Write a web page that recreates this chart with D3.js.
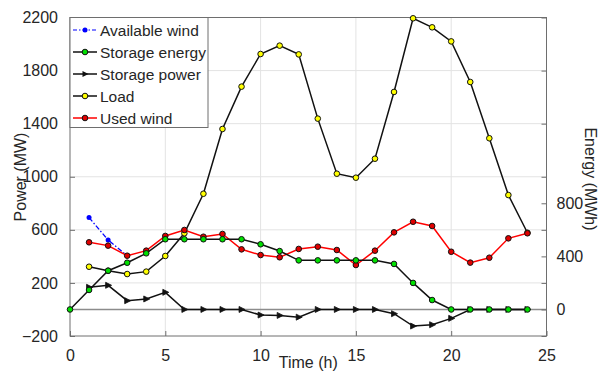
<!DOCTYPE html>
<html>
<head>
<meta charset="utf-8">
<script src="https://cdn.jsdelivr.net/npm/d3@7"></script>
<style>
  body { margin: 0; background: #fff; }
  svg text { font-family: "Liberation Sans", Arial, sans-serif; fill: #262626; }
</style>
</head>
<body>
<svg id="chart" width="598" height="372"></svg>
<script>
// hours
const hours = d3.range(0, 25);
const windHours = [1, 2, 3];
const availWind = [692, 523, 405];
const usedWind = [506, 481, 405, 443, 554, 599, 548, 569, 453, 410, 393, 456, 473, 448, 335, 443, 581, 661, 629, 435, 353, 390, 536, 574];
const load = [322, 292, 267, 285, 403, 574, 872, 1360, 1679, 1925, 1988, 1922, 1438, 1023, 993, 1136, 1639, 2194, 2126, 2020, 1714, 1290, 862, 578];
const storPower = [167, 182, 66, 79, 129, 0, 0, 0, 0, -42, -45, -58, 0, 0, 0, 0, -32, -125, -115, -67, 0, 0, 0, 0];
const storEnergy = [0, 147, 292, 352, 423, 529, 529, 529, 529, 529, 491, 440, 370, 370, 370, 370, 370, 343, 200, 71, 0, 0, 0, 0, 0];
const xTicks = [0, 5, 10, 15, 20, 25];
const yTicks = [-200, 200, 600, 1000, 1400, 1800, 2200];
const y2Ticks = [0, 400, 800];

const margin = { left: 70, top: 17.5, right: 51.5, bottom: 36 };
const width = 598 - margin.left - margin.right;
const height = 372 - margin.top - margin.bottom;

const svg = d3.select("#chart");
const g = svg.append("g").attr("transform", "translate(" + margin.left + "," + margin.top + ")");

const x = d3.scaleLinear().domain([0, 25]).range([0, width]);
const y = d3.scaleLinear().domain([-200, 2200]).range([height, 0]);
// right axis (energy) shares the same scale span
const y2 = d3.scaleLinear().domain([-200, 2200]).range([height, 0]);

// grid
g.append("g").selectAll("line").data(xTicks.slice(1, -1)).enter().append("line")
  .attr("x1", d => x(d)).attr("x2", d => x(d)).attr("y1", 0).attr("y2", height)
  .attr("stroke", "#e3e3e3").attr("stroke-width", 1);
g.append("g").selectAll("line").data(yTicks.slice(1, -1)).enter().append("line")
  .attr("x1", 0).attr("x2", width).attr("y1", d => y(d)).attr("y2", d => y(d))
  .attr("stroke", "#e3e3e3").attr("stroke-width", 1);

// zero line
g.append("line").attr("x1", 0).attr("x2", width).attr("y1", y(0)).attr("y2", y(0))
  .attr("stroke", "#8c8c8c").attr("stroke-width", 1.5);

// axes
const axisColor = "#6e6e6e";
const fmt = d3.format("d");
function styleAxis(sel) {
  sel.select(".domain").remove();
  sel.selectAll("line").attr("stroke", axisColor);
  sel.selectAll("text").style("font-size", "16px").attr("fill", "#262626");
}
g.append("g").attr("transform", "translate(0," + height + ")")
  .call(d3.axisBottom(x).tickValues(xTicks).tickFormat(fmt).tickSizeInner(-5).tickSizeOuter(0).tickPadding(14))
  .call(styleAxis);
g.append("g")
  .call(d3.axisLeft(y).tickValues(yTicks).tickFormat(fmt).tickSizeInner(-5).tickSizeOuter(0).tickPadding(12))
  .call(styleAxis);
g.append("g").attr("transform", "translate(" + width + ",0)")
  .call(d3.axisRight(y).tickValues(yTicks).tickSizeInner(-5).tickSizeOuter(0).tickFormat(""))
  .call(styleAxis);
g.append("g").attr("transform", "translate(" + width + ",0)")
  .call(d3.axisRight(y2).tickValues(y2Ticks).tickFormat(fmt).tickSizeInner(-5).tickSizeOuter(0).tickPadding(10))
  .call(styleAxis);

// frame
g.append("rect").attr("width", width).attr("height", height)
  .attr("fill", "none").attr("stroke", axisColor).attr("stroke-width", 1);

// series
const line = d3.line().x(d => x(d[0])).y(d => y(d[1]));
const hrs = d3.range(1, 25);
const triPath = "M-2.5,-3L3.5,0L-2.5,3Z";

function circles(data, fill) {
  g.append("g").selectAll("circle").data(data).enter().append("circle")
    .attr("cx", d => x(d[0])).attr("cy", d => y(d[1])).attr("r", 2.8)
    .attr("fill", fill).attr("stroke", "#111").attr("stroke-width", 1);
}
function triangles(data) {
  g.append("g").selectAll("path").data(data).enter().append("path")
    .attr("d", triPath)
    .attr("transform", d => "translate(" + x(d[0]) + "," + y(d[1]) + ")")
    .attr("fill", "#111").attr("stroke", "#111").attr("stroke-width", 0.8);
}

const availData = windHours.map((h, i) => [h, availWind[i]]);
const powerData = hrs.map((h, i) => [h, storPower[i]]);
const loadData = hrs.map((h, i) => [h, load[i]]);
const usedData = hrs.map((h, i) => [h, usedWind[i]]);
const energyData = hours.map((h, i) => [h, storEnergy[i]]);

g.append("path").datum(availData).attr("d", line).attr("fill", "none")
  .attr("stroke", "#0000ff").attr("stroke-width", 1.3).attr("stroke-dasharray", "5,2,1.5,2");
g.append("g").selectAll("circle").data(availData).enter().append("circle")
  .attr("cx", d => x(d[0])).attr("cy", d => y(d[1])).attr("r", 2.5)
  .attr("fill", "#0000ff");

g.append("path").datum(powerData).attr("d", line).attr("fill", "none")
  .attr("stroke", "#111").attr("stroke-width", 1.5);
triangles(powerData);

g.append("path").datum(loadData).attr("d", line).attr("fill", "none")
  .attr("stroke", "#111").attr("stroke-width", 1.5);
circles(loadData, "#ffff00");

g.append("path").datum(usedData).attr("d", line).attr("fill", "none")
  .attr("stroke", "#ff0000").attr("stroke-width", 1.5);
circles(usedData, "#e00000");

const line2 = d3.line().x(d => x(d[0])).y(d => y2(d[1]));
g.append("path").datum(energyData).attr("d", line2).attr("fill", "none")
  .attr("stroke", "#111").attr("stroke-width", 1.5);
g.append("g").selectAll("circle").data(energyData).enter().append("circle")
  .attr("cx", d => x(d[0])).attr("cy", d => y2(d[1])).attr("r", 2.8)
  .attr("fill", "#00e000").attr("stroke", "#111").attr("stroke-width", 1);

// axis labels
svg.append("text").attr("transform", "translate(26,177) rotate(-90)")
  .attr("text-anchor", "middle").style("font-size", "16px").text("Power (MW)");
svg.append("text").attr("transform", "translate(585,179) rotate(90)")
  .attr("text-anchor", "middle").style("font-size", "16px").text("Energy (MWh)");
svg.append("text").attr("x", margin.left + width / 2).attr("y", 368)
  .attr("text-anchor", "middle").style("font-size", "16px").text("Time (h)");

// legend
const legendItems = [
  { name: "Available wind", kind: "avail" },
  { name: "Storage energy", kind: "energy" },
  { name: "Storage power", kind: "power" },
  { name: "Load", kind: "load" },
  { name: "Used wind", kind: "used" }
];
const lg = g.append("g");
lg.append("rect").attr("x", 0).attr("y", 0).attr("width", 138).attr("height", 110)
  .attr("fill", "#fff").attr("stroke", axisColor).attr("stroke-width", 1);
legendItems.forEach((it, i) => {
  const cy = 12.5 + i * 22;
  const row = lg.append("g").attr("transform", "translate(0," + cy + ")");
  const col = it.kind === "avail" ? "#0000ff" : it.kind === "used" ? "#ff0000" : "#111";
  const ln = row.append("line").attr("x1", 3).attr("x2", 27).attr("y1", 0).attr("y2", 0)
    .attr("stroke", col).attr("stroke-width", 1.5);
  if (it.kind === "avail") {
    ln.attr("stroke-dasharray", "4,2,1.5,2").attr("stroke-width", 1.2);
    row.append("circle").attr("cx", 15).attr("cy", 0).attr("r", 2.5).attr("fill", "#0000ff");
  } else if (it.kind === "power") {
    row.append("path").attr("d", triPath).attr("transform", "translate(15,0)").attr("fill", "#111");
  } else {
    const f = it.kind === "energy" ? "#00e000" : it.kind === "load" ? "#ffff00" : "#e00000";
    row.append("circle").attr("cx", 15).attr("cy", 0).attr("r", 2.8).attr("fill", f)
      .attr("stroke", "#111").attr("stroke-width", 1);
  }
  row.append("text").attr("x", 30).attr("y", 5.5).style("font-size", "15.5px").text(it.name);
});
</script>
</body>
</html>
